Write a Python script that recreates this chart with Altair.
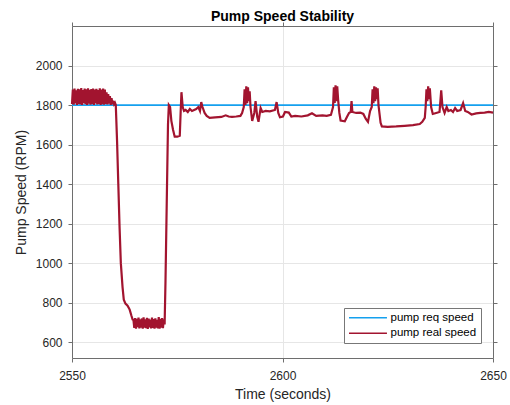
import altair as alt
import pandas as pd

# ---------------- data ----------------
x_range = [2550, 2650]
y_range = [520, 2200]
x_ticks = [2550, 2600, 2650]
y_ticks = [600, 800, 1000, 1200, 1400, 1600, 1800, 2000]

series_names = ["pump req speed", "pump real speed"]
series_colors = ["#14a0ee", "#a2142f"]

req_time = [2550, 2650]
req_speed = [1800, 1800]

# oscillating block at the start (sampled every 0.2 s)
block1_start = 2550.0
block1_step = 0.2
block1_speed = [
    1805, 1878, 1802, 1884, 1808, 1875, 1800, 1882, 1806, 1879,
    1803, 1886, 1801, 1876, 1809, 1883, 1804, 1880, 1800, 1885,
    1807, 1877, 1802, 1881, 1805, 1884, 1801, 1878, 1808, 1882,
    1803, 1876, 1806, 1885, 1800, 1879, 1804, 1883, 1802, 1878,
    1806, 1865, 1803, 1855, 1807, 1845, 1801, 1835, 1804, 1822,
    1805]

drop_time = [2560.2, 2560.4, 2560.7, 2561.0, 2561.3, 2561.6, 2562.0, 2562.3,
             2562.7, 2563.2, 2563.7, 2564.1, 2564.4]
drop_speed = [1812, 1800, 1620, 1400, 1180, 1000, 880, 815,
              795, 785, 765, 735, 715]

# oscillating low block (sampled every 0.2 s)
block2_start = 2564.6
block2_step = 0.2
block2_speed = [
    712, 672, 722, 668, 718, 676, 725, 670, 715, 674,
    720, 669, 726, 673, 716, 671, 723, 667, 719, 675,
    714, 670, 724, 672, 717, 668, 721, 674, 713, 670,
    727, 669, 718, 673, 722, 671, 716, 690]

rest_time = [
    2572.2, 2572.5, 2572.8, 2573.0, 2573.3, 2573.6, 2574.0, 2574.4, 2575.0, 2575.6,
    2575.8, 2576.0, 2576.3, 2576.6, 2577.0, 2577.5, 2578.0, 2578.5, 2579.0, 2579.5,
    2580.0, 2580.4, 2580.7, 2581.0, 2581.5, 2582.0, 2582.7, 2584.0, 2585.5, 2586.5,
    2587.2, 2588.0, 2589.0, 2590.0, 2590.4,
    2590.8, 2591.0, 2591.2, 2591.4, 2591.6, 2591.8, 2592.0, 2592.2, 2592.4,
    2592.8, 2593.3, 2593.6, 2594.0, 2594.3, 2594.8, 2595.2, 2596.0, 2597.0, 2598.2,
    2598.6, 2599.0, 2599.4, 2600.1, 2600.6, 2601.5, 2602.1, 2603.0, 2604.5, 2606.0,
    2607.0, 2608.0, 2609.5, 2610.5, 2611.5, 2612.0,
    2612.2, 2612.4, 2612.6, 2612.8, 2613.0, 2613.2,
    2613.5, 2613.8, 2614.8, 2615.3, 2615.8, 2616.2, 2616.4, 2616.6, 2617.5, 2618.5,
    2619.2, 2619.8, 2620.3, 2620.8, 2621.2,
    2621.4, 2621.6, 2621.8, 2622.0, 2622.2, 2622.4, 2622.6, 2622.8,
    2623.3, 2623.6, 2625.0, 2627.0, 2629.0, 2631.0, 2632.6, 2633.2, 2633.8, 2634.0,
    2634.2, 2634.4, 2634.6, 2634.8, 2635.0,
    2635.3, 2635.7, 2636.5, 2637.3, 2637.7, 2638.0, 2638.5, 2639.0, 2639.4, 2640.0,
    2640.5, 2641.0, 2641.5, 2642.3, 2642.9, 2643.4, 2644.0, 2644.9, 2646.0, 2647.0,
    2648.0, 2649.0, 2650.0]
rest_speed = [
    900, 1300, 1700, 1800, 1790, 1720, 1675, 1640, 1640, 1645,
    1760, 1865, 1790, 1770, 1775, 1765, 1780, 1770, 1775, 1780,
    1790, 1770, 1815, 1790, 1760, 1745, 1735, 1738, 1740, 1748,
    1742, 1740, 1742, 1745, 1760,
    1790, 1880, 1800, 1895, 1810, 1890, 1820, 1870, 1790,
    1720, 1760, 1820, 1740, 1715, 1785, 1765, 1770, 1768, 1775,
    1815, 1760, 1738, 1742, 1765, 1762, 1742, 1745, 1742, 1748,
    1758, 1745, 1748, 1745, 1750, 1790,
    1890, 1810, 1900, 1820, 1895, 1830,
    1760, 1722, 1718, 1740, 1760, 1765, 1820, 1765, 1760, 1762,
    1755, 1730, 1715, 1770, 1790,
    1880, 1810, 1895, 1820, 1890, 1830, 1885, 1800,
    1710, 1692, 1690, 1692, 1695, 1698, 1704, 1715, 1735, 1790,
    1880, 1820, 1895, 1830, 1885,
    1790, 1755, 1760, 1765, 1875, 1790, 1760, 1790, 1770, 1775,
    1765, 1785, 1770, 1775, 1810, 1770, 1765, 1752, 1758, 1760,
    1762, 1765, 1762]

# ---------------- tables ----------------
block1_time = [round(block1_start + i * block1_step, 2) for i in range(len(block1_speed))]
block2_time = [round(block2_start + i * block2_step, 2) for i in range(len(block2_speed))]
real_time = block1_time + drop_time + block2_time + rest_time
real_speed = block1_speed + drop_speed + block2_speed + rest_speed

df_req = pd.DataFrame({"t": req_time, "v": req_speed,
                       "s": series_names[0], "o": list(range(len(req_time)))})
df_real = pd.DataFrame({"t": real_time, "v": real_speed,
                        "s": series_names[1], "o": list(range(len(real_time)))})

FONT = "Liberation Sans"
AX = "#6e6e6e"
TXT = "#262626"

xs = alt.Scale(domain=x_range, nice=False, zero=False)
ys = alt.Scale(domain=y_range, nice=False, zero=False)
cs = alt.Scale(domain=series_names, range=series_colors)

axis_common = dict(domainColor=AX, tickColor=AX, tickSize=4, tickWidth=1,
                   domainWidth=1, labelFont=FONT, labelFontSize=12,
                   labelColor=TXT, titleFont=FONT, titleFontSize=14,
                   titleColor=TXT, titleFontWeight="normal", format="d",
                   labelFlush=False)

req = alt.Chart(df_req).mark_line(strokeWidth=1.8).encode(
    x=alt.X("t:Q", scale=xs, title="Time (seconds)",
            axis=alt.Axis(orient="bottom", values=x_ticks, grid=True,
                          gridColor="#e6e6e6", labelPadding=8, titlePadding=6,
                          **axis_common)),
    y=alt.Y("v:Q", scale=ys, title="Pump Speed (RPM)",
            axis=alt.Axis(orient="left", values=y_ticks, grid=True,
                          gridColor="#e6e6e6", labelPadding=6, titlePadding=7,
                          **axis_common)),
    color=alt.Color("s:N", scale=cs,
                    legend=alt.Legend(title=None, orient="none", legendX=272,
                                      legendY=282, direction="vertical",
                                      symbolType="M-1,0H7", symbolSize=90,
                                      symbolStrokeWidth=1.5, labelFont=FONT,
                                      labelFontSize=11.5, labelColor="#000",
                                      labelOffset=31, strokeColor="#777",
                                      fillColor="#ffffff", padding=4,
                                      rowPadding=2.5, cornerRadius=0)),
    order="o:Q",
)

real = alt.Chart(df_real).mark_line(strokeWidth=2.2).encode(
    x=alt.X("t:Q", scale=xs, title=None,
            axis=alt.Axis(orient="top", values=x_ticks, labels=False,
                          grid=False, **axis_common)),
    y=alt.Y("v:Q", scale=ys, title=None,
            axis=alt.Axis(orient="right", values=y_ticks, labels=False,
                          grid=False, **axis_common)),
    color=alt.Color("s:N", scale=cs),
    order="o:Q",
)

chart = alt.layer(req, real).resolve_axis(
    x="independent", y="independent"
).properties(
    width=421, height=332,
    autosize=alt.AutoSizeParams(type="none"),
    padding={"left": 72, "top": 26, "right": 17, "bottom": 47},
    background="#ffffff",
    title=alt.TitleParams("Pump Speed Stability", font=FONT, fontSize=14,
                          fontWeight="bold", color="#000000",
                          anchor="middle", offset=-2),
).configure_view(stroke=None)

chart.save("out.html", embed_options={"renderer": "svg", "actions": False})
